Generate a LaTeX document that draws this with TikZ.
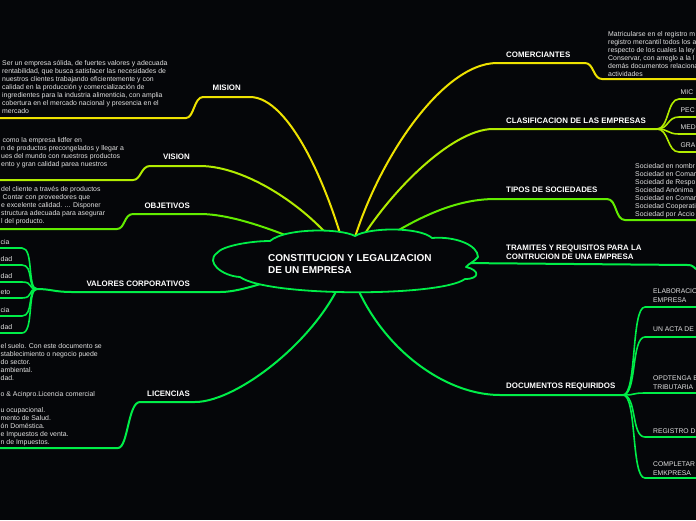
\documentclass[tikz,border=0pt]{standalone}
\usepackage{fontspec}
\setmainfont{Liberation Sans}
\usetikzlibrary{positioning}
\definecolor{fondo}{RGB}{5,6,9}
\definecolor{amarillo}{RGB}{238,226,0}
\definecolor{lima}{RGB}{178,236,0}
\definecolor{verdeclaro}{RGB}{98,236,0}
\definecolor{verde}{RGB}{0,238,72}
\definecolor{texto}{RGB}{226,226,226}

\begin{document}
\begin{tikzpicture}[x=1pt, y=-1pt, line cap=round, line join=round,
    rama/.style={line width=2pt},
    hoja/.style={line width=1.6pt},
    titulo/.style={font=\fontsize{7.9}{9}\selectfont\bfseries, text=white, inner sep=0pt, align=left},
    cuerpo/.style={font=\fontsize{6.9}{8}\selectfont, text=texto, inner sep=0pt, align=left},
    rotulo/.style={font=\fontsize{6.8}{9}\selectfont, text=texto, inner sep=0pt, align=left}]
  \fill[fondo] (0,0) rectangle (696,520);
  \useasboundingbox (0,0) rectangle (696,520);

  \coordinate (hub) at (348,262);
  \coordinate (m1) at (250,97);  \coordinate (m2) at (203,97);
  \coordinate (m3) at (186,118); \coordinate (m4) at (0,118);
  \coordinate (v1) at (200,166); \coordinate (v2) at (150,166);
  \coordinate (v3) at (133,180); \coordinate (v4) at (0,180);
  \coordinate (o1) at (200,214); \coordinate (o2) at (133,214);
  \coordinate (o3) at (117,229); \coordinate (o4) at (0,229);
  \coordinate (c1) at (220,292); \coordinate (c2) at (72,292);
  \coordinate (cf) at (37,289);
  \coordinate (l1) at (195,402); \coordinate (l2) at (140,402);
  \coordinate (l3) at (118,448); \coordinate (l4) at (0,448);
  \coordinate (k1) at (497,63);  \coordinate (k2) at (585,63);
  \coordinate (k3) at (602,79);  \coordinate (k4) at (696,79);
  \coordinate (e1) at (493,129); \coordinate (ef) at (657,129);
  \coordinate (t1) at (495,199); \coordinate (t2) at (607,199);
  \coordinate (t3) at (625,220); \coordinate (t4) at (696,220);
  \coordinate (r1) at (688,265); \coordinate (r2) at (696,269);
  \coordinate (d1) at (500,395); \coordinate (df) at (623,395);

  \begin{scope}[rama]
    \draw[amarillo] (hub) .. controls +(-18,-72) and +(40,0) .. (m1) -- (m2)
      .. controls +(-9,0) and +(8,0) .. (m3) -- (m4);
    \draw[lima] (hub) .. controls +(-28,-47) and +(50,0) .. (v1) -- (v2)
      .. controls +(-9,0) and +(8,0) .. (v3) -- (v4);
    \draw[verdeclaro] (hub) .. controls +(-48,-22) and +(40,0) .. (o1) -- (o2)
      .. controls +(-9,0) and +(8,0) .. (o3) -- (o4);
    \draw[verde] (hub) .. controls +(-58,8) and +(30,0) .. (c1) -- (c2)
      .. controls +(-18,0) and +(14,0) .. (cf);
    \draw[verde] (hub) .. controls +(-18,68) and +(45,0) .. (l1) -- (l2)
      .. controls +(-12,0) and +(10,0) .. (l3) -- (l4);
    \draw[amarillo] (hub) .. controls +(22,-92) and +(-57,0) .. (k1) -- (k2)
      .. controls +(9,0) and +(-9,0) .. (k3) -- (k4);
    \draw[lima] (hub) .. controls +(32,-62) and +(-43,0) .. (e1) -- (ef);
    \draw[verdeclaro] (hub) .. controls +(42,-27) and +(-55,0) .. (t1) -- (t2)
      .. controls +(10,0) and +(-10,0) .. (t3) -- (t4);
    \draw[verde] (hub) -- (r1) .. controls +(5,0) and +(-3,-2) .. (r2);
    \draw[verde] (hub) .. controls +(22,78) and +(-60,0) .. (d1) -- (df);
  \end{scope}

  \foreach \y/\txt [count=\i] in {248/cia, 265/dad, 282/dad, 298/eto, 316/cia, 333/dad} {
    \coordinate (val\i) at (0,\y);
    \draw[hoja, verde] (cf) .. controls +(-10,0) and +(12,0) .. (22,\y) -- (val\i);
    \node[cuerpo, anchor=base west] (valtxt\i) at (0.5,\y-4) {\txt};
  }
  \foreach \y/\txt [count=\i] in {99/MIC, 117/PEC, 134/MED, 152/GRA} {
    \coordinate (cla\i) at (696,\y);
    \draw[hoja, lima] (ef) .. controls +(12,0) and +(-12,0) .. (679,\y) -- (cla\i);
    \node[rotulo, anchor=base west] (clatxt\i) at (680.5,\y-4.5) {\txt};
  }
  \foreach \y [count=\i] in {307, 337, 393, 437, 478} {
    \coordinate (doc\i) at (696,\y);
    \draw[hoja, verde] (df) .. controls +(14,0) and +(-14,0) .. (645,\y) -- (doc\i);
  }

  \draw[verde, line width=1.8pt, fill=fondo]
    (217,253) .. controls (222,246) and (250,241) .. (270,241)
    .. controls (285,228) and (340,228) .. (355,236)
    .. controls (370,227) and (420,227) .. (432,238)
    .. controls (455,236) and (478,245) .. (478,257)
    .. controls (474,262) and (468,264) .. (466,267)
    .. controls (480,270) and (480,279) .. (465,279)
    .. controls (440,297) and (268,297) .. (240,277)
    .. controls (222,276) and (205,262) .. cycle;
  \node[anchor=north west, inner sep=0pt, align=left, text=white,
    font=\fontsize{10}{12}\selectfont\bfseries] (centro) at (268,254)
    {CONSTITUCION Y LEGALIZACION\\DE UN EMPRESA};

  \begin{scope}[every node/.style={titulo}]
    \node[anchor=east] (mision) at (241,88) {MISION};
    \node[anchor=east] (vision) at (190,157) {VISION};
    \node[anchor=east] (objetivos) at (190,206) {OBJETIVOS};
    \node[anchor=east] (valores) at (190,284) {VALORES CORPORATIVOS};
    \node[anchor=east] (licencias) at (190,394) {LICENCIAS};
    \node[anchor=west] (comerciantes) at (506,55) {COMERCIANTES};
    \node[anchor=west] (clasificacion) at (506,121) {CLASIFICACION DE LAS EMPRESAS};
    \node[anchor=west] (tipos) at (506,190) {TIPOS DE SOCIEDADES};
    \node[anchor=north west] (tramites) at (506,245)
      {TRAMITES Y REQUISITOS PARA LA\\CONTRUCION DE UNA EMPRESA};
    \node[anchor=west] (documentos) at (506,387) {DOCUMENTOS REQUIRIDOS};
  \end{scope}

  \begin{scope}[every node/.style={cuerpo, anchor=north west}]
    \node (misiontxt) at (2,60) {Ser un empresa sólida, de fuertes valores y adecuada\\
      rentabilidad, que busca satisfacer las necesidades de\\
      nuestros clientes trabajando eficientemente y con\\
      calidad en la producción y comercialización de\\
      ingredientes para la industria alimenticia, con amplia\\
      cobertura en el mercado nacional y presencia en el\\
      mercado};
    \node (visiontxt) at (1,137) {\hspace{1.5pt}como la empresa lidfer en\\
      n de productos precongelados y llegar a\\
      ues del mundo con nuestros productos\\
      ento y gran calidad parea nuestros};
    \node (objetivostxt) at (1,186) {del cliente a través de productos\\
      \hspace{1.5pt}Contar con proveedores que\\
      e excelente calidad. ... Disponer\\
      structura adecuada para asegurar\\
      l del producto.};
    \node (licenciastxt) at (0.5,343) {el suelo. Con este documento se\\
      stablecimiento o negocio puede\\
      do sector.\\
      ambiental.\\
      dad.\\[8pt]
      o \& Acinpro.Licencia comercial\\[8pt]
      u ocupacional.\\
      mento de Salud.\\
      ón Doméstica.\\
      e Impuestos de venta.\\
      n de Impuestos.};
    \node (comerciantestxt) at (608,31) {Matricularse en el registro m\\
      registro mercantil todos los a\\
      respecto de los cuales la ley\\
      Conservar, con arreglo a la l\\
      demás documentos relaciona\\
      actividades};
    \node (tipostxt) at (635,163) {Sociedad en nombr\\
      Sociedad en Comar\\
      Sociedad de Respo\\
      Sociedad Anónima\\
      Sociedad en Comar\\
      Sociedad Cooperati\\
      Sociedad por Accio};
  \end{scope}

  \begin{scope}[every node/.style={rotulo, anchor=north west}]
    \node (doctxt1) at (653,289) {ELABORACIO\\EMPRESA};
    \node (doctxt2) at (653,327) {UN ACTA DE};
    \node (doctxt3) at (653,376) {OPDTENGA E\\TRIBUTARIA};
    \node (doctxt4) at (653,429) {REGISTRO D};
    \node (doctxt5) at (653,462) {COMPLETAR\\EMKPRESA};
  \end{scope}
\end{tikzpicture}
\end{document}
